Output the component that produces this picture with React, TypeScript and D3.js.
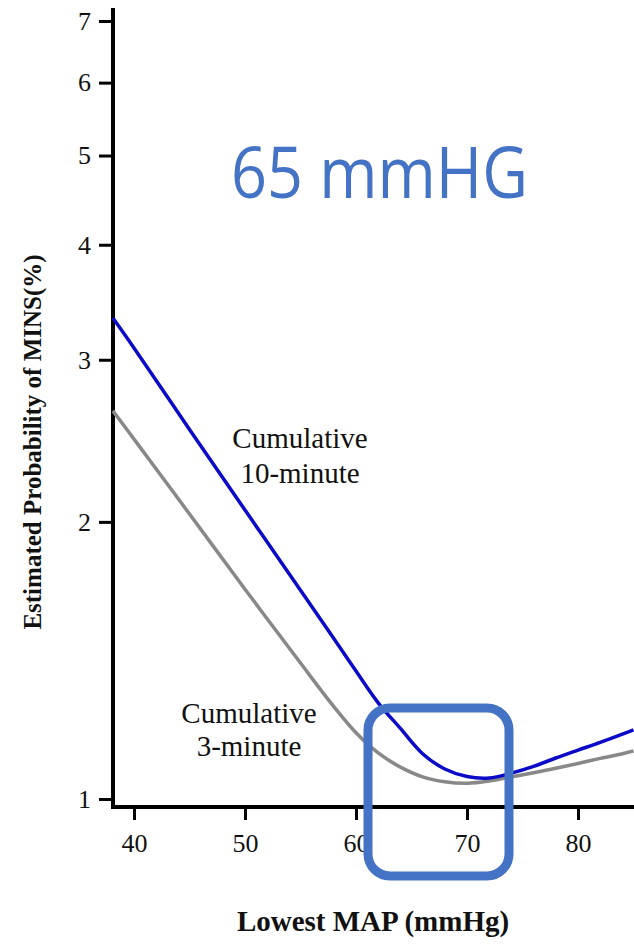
import React, { useEffect, useRef } from 'react';
import * as d3 from 'd3';

// lowest MAP (mmHg) where the curves were read
const mapValues = [38.1, 40, 45, 50, 55, 58, 60, 62, 64, 66, 68, 70, 72, 74, 76, 78, 80, 82, 84, 85];
// estimated probability of MINS (%)
const tenMinute = [3.33, 3.09, 2.52, 2.06, 1.686, 1.494, 1.377, 1.272, 1.193, 1.12, 1.078, 1.058, 1.054, 1.067, 1.085, 1.108, 1.13, 1.152, 1.176, 1.189];
const threeMinute = [2.64, 2.46, 2.04, 1.69, 1.405, 1.26, 1.18, 1.122, 1.083, 1.057, 1.044, 1.04, 1.046, 1.057, 1.068, 1.08, 1.093, 1.107, 1.12, 1.128];

const xTicks = [40, 50, 60, 70, 80];
const yTicks = [1, 2, 3, 4, 5, 6, 7];

const W = 634;
const H = 947;

export default function App() {
    const ref = useRef<SVGSVGElement>(null);

    useEffect(() => {
        const svg = d3.select(ref.current);
        svg.selectAll('*').remove();

        const x = d3.scaleLinear().domain([40, 80]).range([134, 578]);
        const y = d3.scaleLog().domain([1, 7]).range([799, 21]);
        const axisX = 113;
        const axisY = 807;
        const serif = 'Liberation Serif';

        // y axis
        const gy = svg.append('g').attr('transform', `translate(${axisX},0)`)
            .call(d3.axisLeft(y).tickValues(yTicks).tickFormat(d3.format('d')).tickSize(14).tickSizeOuter(0).tickPadding(8));
        gy.select('.domain').remove();
        gy.selectAll('line').attr('stroke', '#000').attr('stroke-width', 3);
        gy.selectAll('text').style('font-family', serif).style('font-size', '26px').attr('fill', '#111');

        // x axis
        const gx = svg.append('g').attr('transform', `translate(0,${axisY})`)
            .call(d3.axisBottom(x).tickValues(xTicks).tickFormat(d3.format('d')).tickSize(13).tickSizeOuter(0).tickPadding(14));
        gx.select('.domain').remove();
        gx.selectAll('line').attr('stroke', '#000').attr('stroke-width', 3);
        gx.selectAll('text').style('font-family', serif).style('font-size', '26px').attr('fill', '#111');

        // axis lines
        svg.append('path')
            .attr('d', `M${axisX},8V${axisY}H${W}`)
            .attr('fill', 'none')
            .attr('stroke', '#000')
            .attr('stroke-width', 4);

        const line = (vals: number[]) => d3.line<number>()
            .x((_, i) => x(mapValues[i]))
            .y(d => y(d))
            .curve(d3.curveCatmullRom.alpha(0.5))(vals);

        svg.append('path')
            .attr('d', line(threeMinute))
            .attr('fill', 'none')
            .attr('stroke', '#888888')
            .attr('stroke-width', 3.5);

        svg.append('path')
            .attr('d', line(tenMinute))
            .attr('fill', 'none')
            .attr('stroke', '#0a0ac8')
            .attr('stroke-width', 3.5);

        // curve labels
        const lab = (tx: number, lines: string[], ys: number[]) => {
            lines.forEach((s, i) => {
                svg.append('text')
                    .attr('x', tx).attr('y', ys[i])
                    .attr('text-anchor', 'middle')
                    .style('font-family', serif)
                    .style('font-size', '29px')
                    .attr('fill', '#111')
                    .text(s);
            });
        };
        lab(300, ['Cumulative', '10-minute'], [448, 483]);
        lab(249, ['Cumulative', '3-minute'], [723, 756]);

        // axis titles
        svg.append('text')
            .attr('transform', 'translate(41,442) rotate(-90)')
            .attr('text-anchor', 'middle')
            .style('font-family', serif)
            .style('font-weight', 'bold')
            .style('font-size', '25px')
            .attr('fill', '#111')
            .text('Estimated Probability of MINS(%)');

        svg.append('text')
            .attr('x', 373).attr('y', 931)
            .attr('text-anchor', 'middle')
            .style('font-family', serif)
            .style('font-weight', 'bold')
            .style('font-size', '29px')
            .attr('fill', '#111')
            .text('Lowest MAP (mmHg)');

        // annotation
        svg.append('text')
            .attr('x', 231).attr('y', 198)
            .style('font-family', '"Open Sans", sans-serif')
            .style('font-size', '71px')
            .attr('fill', '#4472C4')
            .attr('textLength', 297)
            .attr('lengthAdjust', 'spacingAndGlyphs')
            .text('65 mmHG');

        svg.append('rect')
            .attr('x', 368).attr('y', 708)
            .attr('width', 141).attr('height', 168)
            .attr('rx', 22)
            .attr('fill', 'none')
            .attr('stroke', '#4472C4')
            .attr('stroke-width', 9);
    }, []);

    return (
        <svg ref={ref} width={W} height={H}
            style={{ position: 'absolute', left: 0, top: 0, background: '#fff' }} />
    );
}
